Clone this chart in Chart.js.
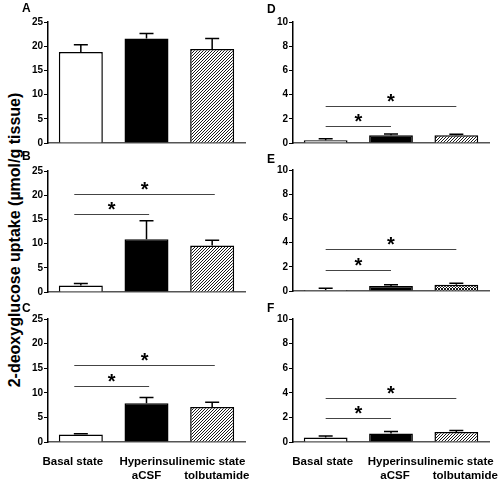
<!DOCTYPE html>
<html><head><meta charset="utf-8">
<script src="https://cdn.jsdelivr.net/npm/chart.js@4.4.0/dist/chart.umd.min.js"></script>
<style>
html,body{margin:0;padding:0;background:#fff;width:501px;height:484px;overflow:hidden;position:relative;font-family:"Liberation Sans",Arial,sans-serif;}
canvas{position:absolute;}
.lbl{position:absolute;font-weight:bold;font-size:12px;line-height:12px;color:#000;}
#ytitle{position:absolute;left:15px;top:240px;font-weight:bold;font-size:16px;line-height:16px;white-space:nowrap;transform:translate(-50%,-50%) rotate(-90deg);color:#000;}
</style></head><body>
<div id="ytitle">2-deoxyglucose uptake (µmol/g tissue)</div>
<canvas id="cA"></canvas><canvas id="cB"></canvas><canvas id="cC"></canvas>
<canvas id="cD"></canvas><canvas id="cE"></canvas><canvas id="cF"></canvas>
<script>
// ---------- data ----------
const categories = ["Basal state", "Hyperinsulinemic state aCSF", "Hyperinsulinemic state tolbutamide"];
const xLabelRow1 = ["Basal state", "Hyperinsulinemic state"];
const xLabelRow2 = ["aCSF", "tolbutamide"];
const panelLetters = ["A", "B", "C", "D", "E", "F"];
const leftTicks = [0, 5, 10, 15, 20, 25];
const rightTicks = [0, 2, 4, 6, 8, 10];
const comparisons = [[0, 1], [0, 2]];

const meanA = [18.8, 21.6, 19.4];
const semA  = [1.5, 1.0, 2.2];
const meanB = [1.35, 10.9, 9.6];
const semB  = [0.4, 3.8, 1.1];
const meanC = [1.5, 7.9, 7.1];
const semC  = [0.2, 1.15, 1.0];
const meanD = [0.22, 0.65, 0.65];
const semD  = [0.14, 0.09, 0.07];
const meanE = [0.08, 0.41, 0.51];
const semE  = [0.15, 0.10, 0.13];
const meanF = [0.36, 0.69, 0.82];
const semF  = [0.13, 0.16, 0.11];

const sigA = [];
const sigB = [16.1, 20.2];
const sigC = [11.4, 15.6];
const sigD = [1.41, 3.08];
const sigE = [1.77, 3.51];
const sigF = [1.94, 3.6];

// ---------- drawing ----------
const FONT = "'Liberation Sans', Arial, sans-serif";

function hatch(cross) {
  const s = 3;
  const c = document.createElement('canvas'); c.width = s; c.height = s;
  const g = c.getContext('2d');
  g.fillStyle = '#fff'; g.fillRect(0, 0, s, s);
  g.strokeStyle = '#000'; g.lineWidth = 0.9;
  g.beginPath();
  g.moveTo(-1, s + 1); g.lineTo(s + 1, -1);
  g.moveTo(-1, 1); g.lineTo(1, -1);
  g.moveTo(s - 1, s + 1); g.lineTo(s + 1, s - 1);
  if (cross) {
    g.moveTo(-1, -1); g.lineTo(s + 1, s + 1);
    g.moveTo(s - 1, -1); g.lineTo(s + 1, 1);
    g.moveTo(-1, s - 1); g.lineTo(1, s + 1);
  }
  g.stroke();
  return g.createPattern(c, 'repeat');
}

const annot = {
  id: 'annot',
  afterDatasetsDraw(chart, args, o) {
    const ctx = chart.ctx;
    const x = chart.scales.x, y = chart.scales.y;
    const meta = chart.getDatasetMeta(0);
    const p0 = x.getPixelForValue(0), p1 = x.getPixelForValue(1);
    const px = v => p0 + v * (p1 - p0);
    ctx.save();
    // error bars
    ctx.strokeStyle = '#000'; ctx.lineWidth = 1.5;
    o.means.forEach((m, i) => {
      const el = meta.data[i];
      const yt = y.getPixelForValue(m + o.sems[i]);
      const yb = y.getPixelForValue(m);
      ctx.beginPath();
      ctx.moveTo(el.x, yb); ctx.lineTo(el.x, yt);
      ctx.moveTo(el.x - o.cap, yt); ctx.lineTo(el.x + o.cap, yt);
      ctx.stroke();
    });
    // significance lines
    ctx.strokeStyle = '#444'; ctx.lineWidth = 1;
    ctx.fillStyle = '#000';
    ctx.font = 'bold 20px ' + FONT;
    ctx.textAlign = 'center'; ctx.textBaseline = 'alphabetic';
    o.sig.forEach((h, k) => {
      const [a, b] = comparisons[k];
      const xa = px(a + o.sigStart), xb = px(b + o.sigEnd);
      const yy = Math.round(y.getPixelForValue(h)) + 0.5;
      ctx.beginPath(); ctx.moveTo(xa, yy); ctx.lineTo(xb, yy); ctx.stroke();
      const mt = ctx.measureText('*');
      const cy = yy - 9;
      const base = cy + (mt.actualBoundingBoxAscent - mt.actualBoundingBoxDescent) / 2;
      ctx.fillText('*', (xa + xb) / 2, base);
    });
    // category labels
    if (o.xlabels) {
      ctx.font = 'bold 11.5px ' + FONT;
      ctx.textBaseline = 'middle';
      const yb = chart.chartArea.bottom;
      const sh = o.labelShift;
      ctx.fillText(xLabelRow1[0], px(0) + sh[0], yb + 20);
      ctx.fillText(xLabelRow1[1], px(1.5) + sh[1], yb + 20);
      ctx.fillText(xLabelRow2[0], px(1) + sh[2], yb + 34);
      ctx.fillText(xLabelRow2[1], px(2) + sh[3], yb + 34);
    }
    ctx.restore();
  }
};

function makePanel(id, letter, means, sems, sig, ticks, pattern, box) {
  const padTop = 10, padRight = 12, padLeft = 0, yW = 40;
  const padBottom = box.labels ? 44 : 6;
  const cv = document.getElementById(id);
  const w = yW + (box.right - box.left) + padRight;
  const h = padTop + (box.bottom - box.top) + padBottom;
  cv.width = w; cv.height = h;
  cv.style.left = (box.left - yW) + 'px';
  cv.style.top = (box.top - padTop) + 'px';
  cv.style.width = w + 'px'; cv.style.height = h + 'px';

  const lab = document.createElement('div');
  lab.className = 'lbl';
  lab.textContent = letter;
  lab.style.left = box.letterX + 'px';
  lab.style.top = box.letterY + 'px';
  document.body.appendChild(lab);

  new Chart(cv, {
    type: 'bar',
    data: {
      labels: categories,
      datasets: [{
        data: means,
        backgroundColor: ['#ffffff', '#000000', pattern],
        borderColor: '#000', borderWidth: 1.5,
        barPercentage: 0.67, categoryPercentage: 1
      }]
    },
    options: {
      responsive: false, animation: false, devicePixelRatio: 1,
      layout: { padding: { top: padTop, right: padRight, bottom: padBottom, left: padLeft } },
      plugins: {
        legend: { display: false }, tooltip: { enabled: false },
        annot: {
          means: means, sems: sems, sig: sig, cap: 7,
          sigStart: box.sigStart, sigEnd: box.sigEnd,
          xlabels: !!box.labels, labelShift: box.labelShift
        }
      },
      scales: {
        x: {
          grid: { display: false, drawTicks: false, tickLength: 0 }, ticks: { display: false, padding: 0 },
          afterFit: s => { s.height = 0; },
          border: { display: true, color: '#555', width: 1.5 }
        },
        y: {
          min: 0, max: ticks[ticks.length - 1],
          afterBuildTicks: s => { s.ticks = ticks.map(v => ({ value: v })); },
          afterFit: s => { s.width = yW; },
          grid: { display: true, drawOnChartArea: false, drawTicks: true, tickLength: 4, color: '#000', lineWidth: 1 },
          border: { display: true, color: '#000', width: 1.5 },
          ticks: { color: '#000', padding: 1, font: { family: FONT, weight: 'bold', size: 10 } }
        }
      }
    },
    plugins: [annot]
  });
}

const L = { left: 48, right: 245, sigStart: -0.1, sigEnd: 0.04, labelShift: [-8, 3, 0, 4.6] };
const R = { left: 293, right: 489, sigStart: 0, sigEnd: 0, labelShift: [-3, 7, 4, 9] };

makePanel('cA', panelLetters[0], meanA, semA, sigA, leftTicks, hatch(false), Object.assign({}, L, { top: 22, bottom: 144, letterX: 22, letterY: 1.5 }));
makePanel('cB', panelLetters[1], meanB, semB, sigB, leftTicks, hatch(false), Object.assign({}, L, { top: 171, bottom: 293, letterX: 22, letterY: 150 }));
makePanel('cC', panelLetters[2], meanC, semC, sigC, leftTicks, hatch(false), Object.assign({}, L, { top: 319, bottom: 442, letterX: 22, letterY: 301.5, labels: true }));
makePanel('cD', panelLetters[3], meanD, semD, sigD, rightTicks, hatch(false), Object.assign({}, R, { top: 22, bottom: 144, letterX: 267, letterY: 2.5 }));
makePanel('cE', panelLetters[4], meanE, semE, sigE, rightTicks, hatch(true), Object.assign({}, R, { top: 170, bottom: 292, letterX: 267, letterY: 152.5 }));
makePanel('cF', panelLetters[5], meanF, semF, sigF, rightTicks, hatch(false), Object.assign({}, R, { top: 319, bottom: 442, letterX: 267, letterY: 301.5, labels: true }));
</script>
</body></html>
